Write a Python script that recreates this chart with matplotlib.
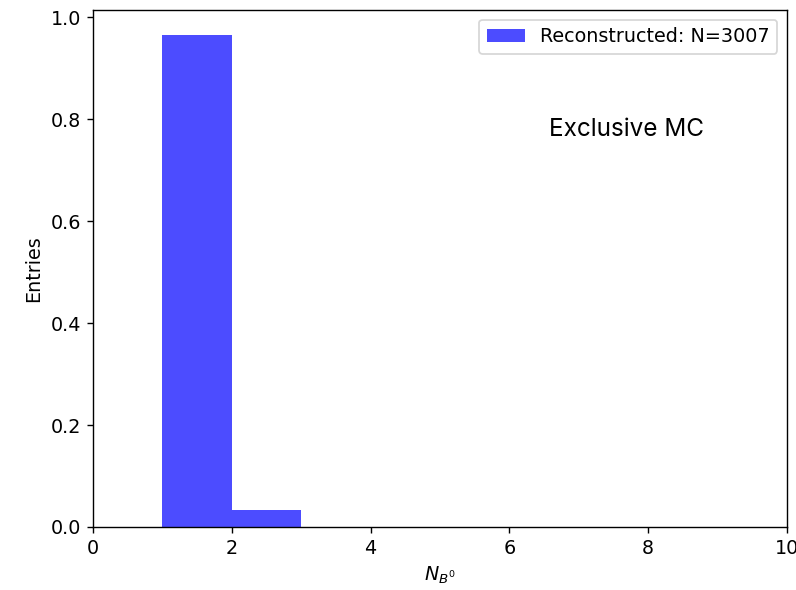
import numpy as np
from matplotlib import pyplot as plt

# histogram of number of B0 candidates per event
bin_edges = [0, 1, 2, 3, 4, 5, 6, 7, 8, 9, 10]
n_b0 = [1, 2]
counts = [2905, 102]
n_total = sum(counts)

plt.rcParams['font.size'] = 11

fig = plt.figure(figsize=(796 / 125, 590 / 125), dpi=125)
ax = fig.add_axes([93 / 796, 63 / 590, 694 / 796, 517 / 590])

ax.hist(n_b0, bins=bin_edges, weights=counts, density=True,
        color='blue', alpha=0.7, label=f'Reconstructed: N={n_total}')
ax.set_xlim(0, 10)
ax.set_xlabel(r'$N_{B^0}$')
ax.set_ylabel('Entries')
ax.legend(loc='upper right')
ax.text(0.769, 0.768, 'Exclusive MC', transform=ax.transAxes,
        ha='center', va='center', fontsize=14, family='Inter')

fig.savefig('out.png', dpi=125)
